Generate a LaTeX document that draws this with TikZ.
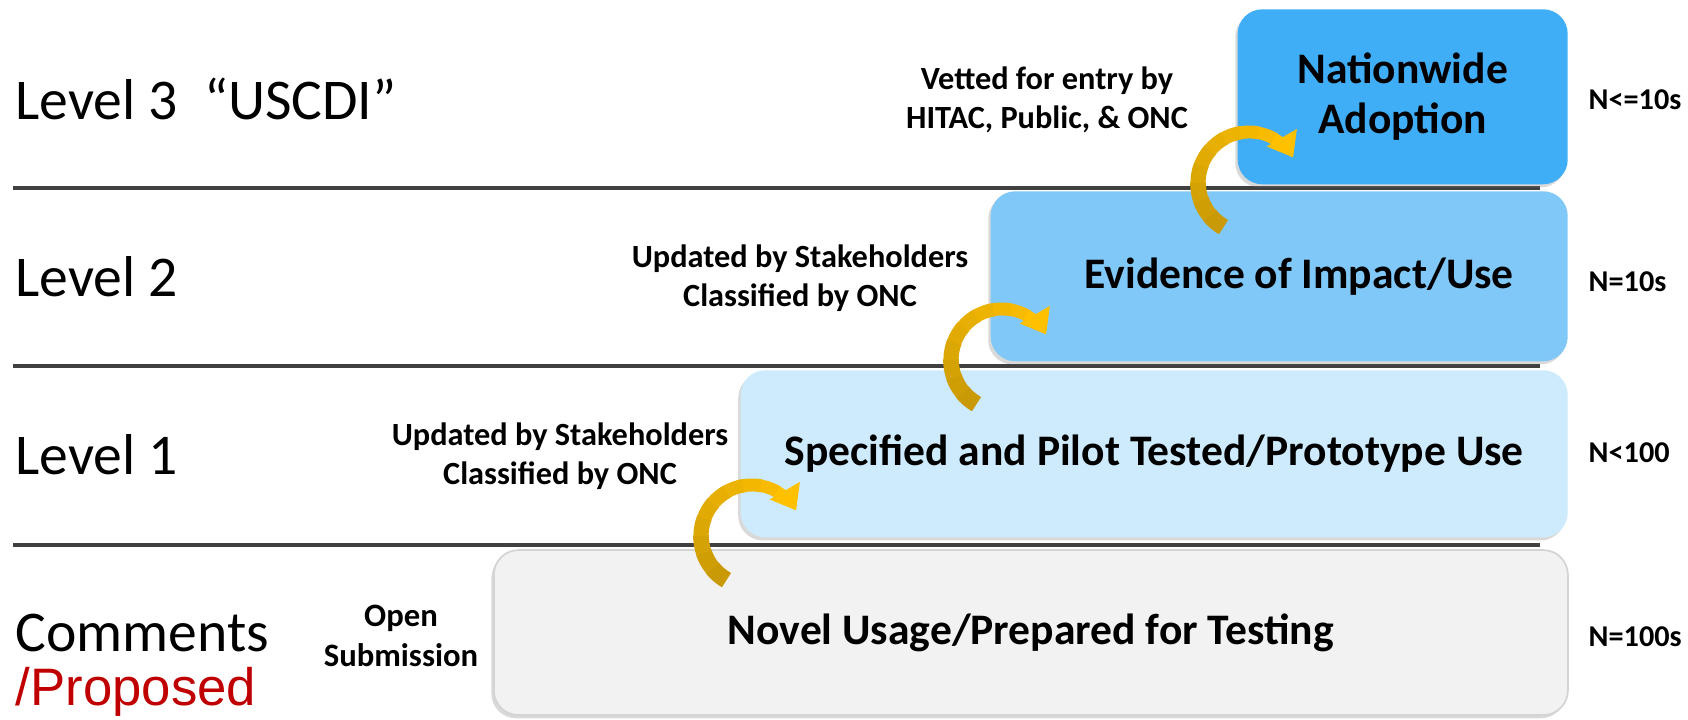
\documentclass[tikz,border=0pt]{standalone}
\usepackage{fontspec}
\setmainfont{Carlito}
\newfontfamily\arialfont{Liberation Sans}
\usetikzlibrary{arrows.meta,shadows,calc}

\definecolor{nationblue}{HTML}{3FAEF6}
\definecolor{impactblue}{HTML}{80C8F8}
\definecolor{pilotblue}{HTML}{CDEBFC}
\definecolor{novelgray}{HTML}{F2F2F2}
\definecolor{novelrim}{HTML}{D4D4D4}
\definecolor{rulegray}{HTML}{404040}
\definecolor{proposedred}{HTML}{C00000}
\definecolor{arrowgold}{HTML}{FFC000}
\definecolor{arrowdark}{HTML}{C99A06}

% curved step-up arrow, hooked on the south west corner of a level box
\newcommand{\climbarrow}[1]{%
  \coordinate (#1-c) at ($(#1.south west)+(0.12,0.02)$);
  \foreach \k in {0,...,8} {
    \pgfmathtruncatemacro{\pct}{100-\k*11}
    \pgfmathsetmacro{\lw}{4.8-\k*0.16}
    \draw [line width=\lw pt, draw=arrowdark!\pct!arrowgold]
      ($(#1-c)+({240-\k*20}:0.51)$) arc ({240-\k*20}:{240-(\k+1)*20-1}:0.51);
  }
  \draw [line width=3.3pt, arrowgold, -{Triangle[length=6.5pt,width=9.5pt]}]
    ($(#1-c)+(61:0.51)$) arc (61:30:0.51);
}

\begin{document}
\begin{tikzpicture}[
    levelbox/.style={rounded corners=7pt, inner sep=0pt, align=center, anchor=south west,
      font=\fontsize{12.4}{14.2}\selectfont\bfseries,
      drop shadow={shadow xshift=-0.7pt, shadow yshift=-0.9pt, opacity=0.3}},
    levellabel/.style={anchor=west, inner sep=0pt, font=\fontsize{16.4}{18}\selectfont},
    note/.style={align=center, inner sep=0pt, font=\fontsize{9.2}{11}\selectfont\bfseries},
    count/.style={anchor=west, inner sep=0pt, font=\fontsize{8.6}{10}\selectfont\bfseries},
    rule/.style={line width=1.4pt, draw=rulegray},
  ]
    \useasboundingbox (0,0) rectangle (16.88,7.2);

    % separating rules
    \draw [rule] (0.13,5.32) -- (15.4,5.32);
    \draw [rule] (0.13,3.54) -- (15.4,3.54);
    \draw [rule] (0.13,1.75) -- (15.4,1.75);

    % the four levels
    \node [levelbox, fill=novelgray, draw=novelrim, line width=0.5pt,
      minimum width=10.74cm, minimum height=1.65cm] (novel) at (4.93,0.04)
      {Novel Usage/Prepared for Testing};
    \node [levelbox, fill=pilotblue, minimum width=8.27cm, minimum height=1.67cm]
      (pilot) at (7.40,1.82) {Specified and Pilot Tested/Prototype Use};
    \node [levelbox, fill=impactblue, minimum width=5.77cm, minimum height=1.70cm]
      (impact) at (9.90,3.58) {\hspace*{4mm}Evidence of Impact/Use};
    \node [levelbox, fill=nationblue, minimum width=3.30cm, minimum height=1.75cm]
      (nation) at (12.37,5.35) {Nationwide\\Adoption};

    % row labels
    \node [levellabel] (lab3) at (0.15,6.21) {Level 3\ \ “USCDI”};
    \node [levellabel] (lab2) at (0.15,4.43) {Level 2};
    \node [levellabel] (lab1) at (0.15,2.65) {Level 1};
    \node [levellabel] (labc) at (0.15,0.87) {Comments};
    \node [levellabel, text=proposedred, font=\arialfont\fontsize{15}{17}\selectfont]
      (labp) at (0.15,0.28) {/Proposed};

    % how an item moves up
    \node [note] (vetted) at (10.47,6.20) {Vetted for entry by\\HITAC, Public, \& ONC};
    \node [note] (upd2) at (8.00,4.42) {Updated by Stakeholders\\Classified by ONC};
    \node [note] (upd1) at (5.60,2.64) {Updated by Stakeholders\\Classified by ONC};
    \node [note, font=\fontsize{9.3}{11.4}\selectfont\bfseries] (opensub) at (4.01,0.84)
      {Open\\Submission};

    % counts
    \node [count] (n3) at (15.88,6.20) {N<=10s};
    \node [count] (n2) at (15.88,4.38) {N=10s};
    \node [count] (n1) at (15.88,2.67) {N<100};
    \node [count] (n0) at (15.88,0.83) {N=100s};

    % arrows
    \climbarrow{pilot}
    \climbarrow{impact}
    \climbarrow{nation}
\end{tikzpicture}
\end{document}
